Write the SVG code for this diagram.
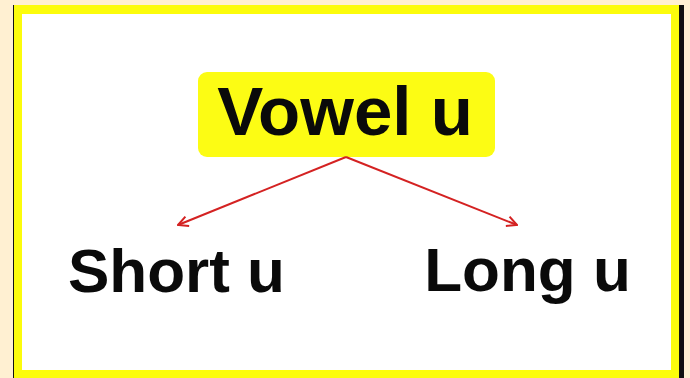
<svg xmlns="http://www.w3.org/2000/svg" width="690" height="378" viewBox="0 0 690 378">
  <defs>
    <style>
      .lbl { font-family: "Liberation Sans", Arial, sans-serif; font-weight: bold; fill: #0a0a0a; text-anchor: middle; }
      .edge { stroke: #d42222; stroke-width: 2; fill: none; }
    </style>
    <marker id="arr" viewBox="0 0 12 12" refX="11" refY="6" markerWidth="12" markerHeight="12" markerUnits="userSpaceOnUse" orient="auto">
      <path d="M1,1 L11,6 L1,11" fill="none" stroke="#d42222" stroke-width="2"/>
    </marker>
  </defs>
  <rect x="0" y="0" width="690" height="378" fill="#fff0d2"/>
  <rect x="13" y="5" width="671" height="373" fill="#111"/>
  <rect x="14" y="5" width="665" height="373" fill="#fcfc0c"/>
  <rect x="22" y="14" width="649" height="356" fill="#ffffff"/>
  <g id="node-vowel">
    <rect x="198" y="72" width="297" height="85" rx="9" fill="#fcfc14"/>
    <text class="lbl" x="345" y="135" font-size="69">Vowel u</text>
  </g>
  <g id="node-short">
    <text class="lbl" x="176.5" y="292" font-size="62">Short u</text>
  </g>
  <g id="node-long">
    <text class="lbl" x="527.5" y="291" font-size="62">Long u</text>
  </g>
  <g id="connectors">
    <line class="edge" x1="346" y1="157" x2="178" y2="225" marker-end="url(#arr)"/>
    <line class="edge" x1="346" y1="157" x2="517" y2="225" marker-end="url(#arr)"/>
  </g>
</svg>
